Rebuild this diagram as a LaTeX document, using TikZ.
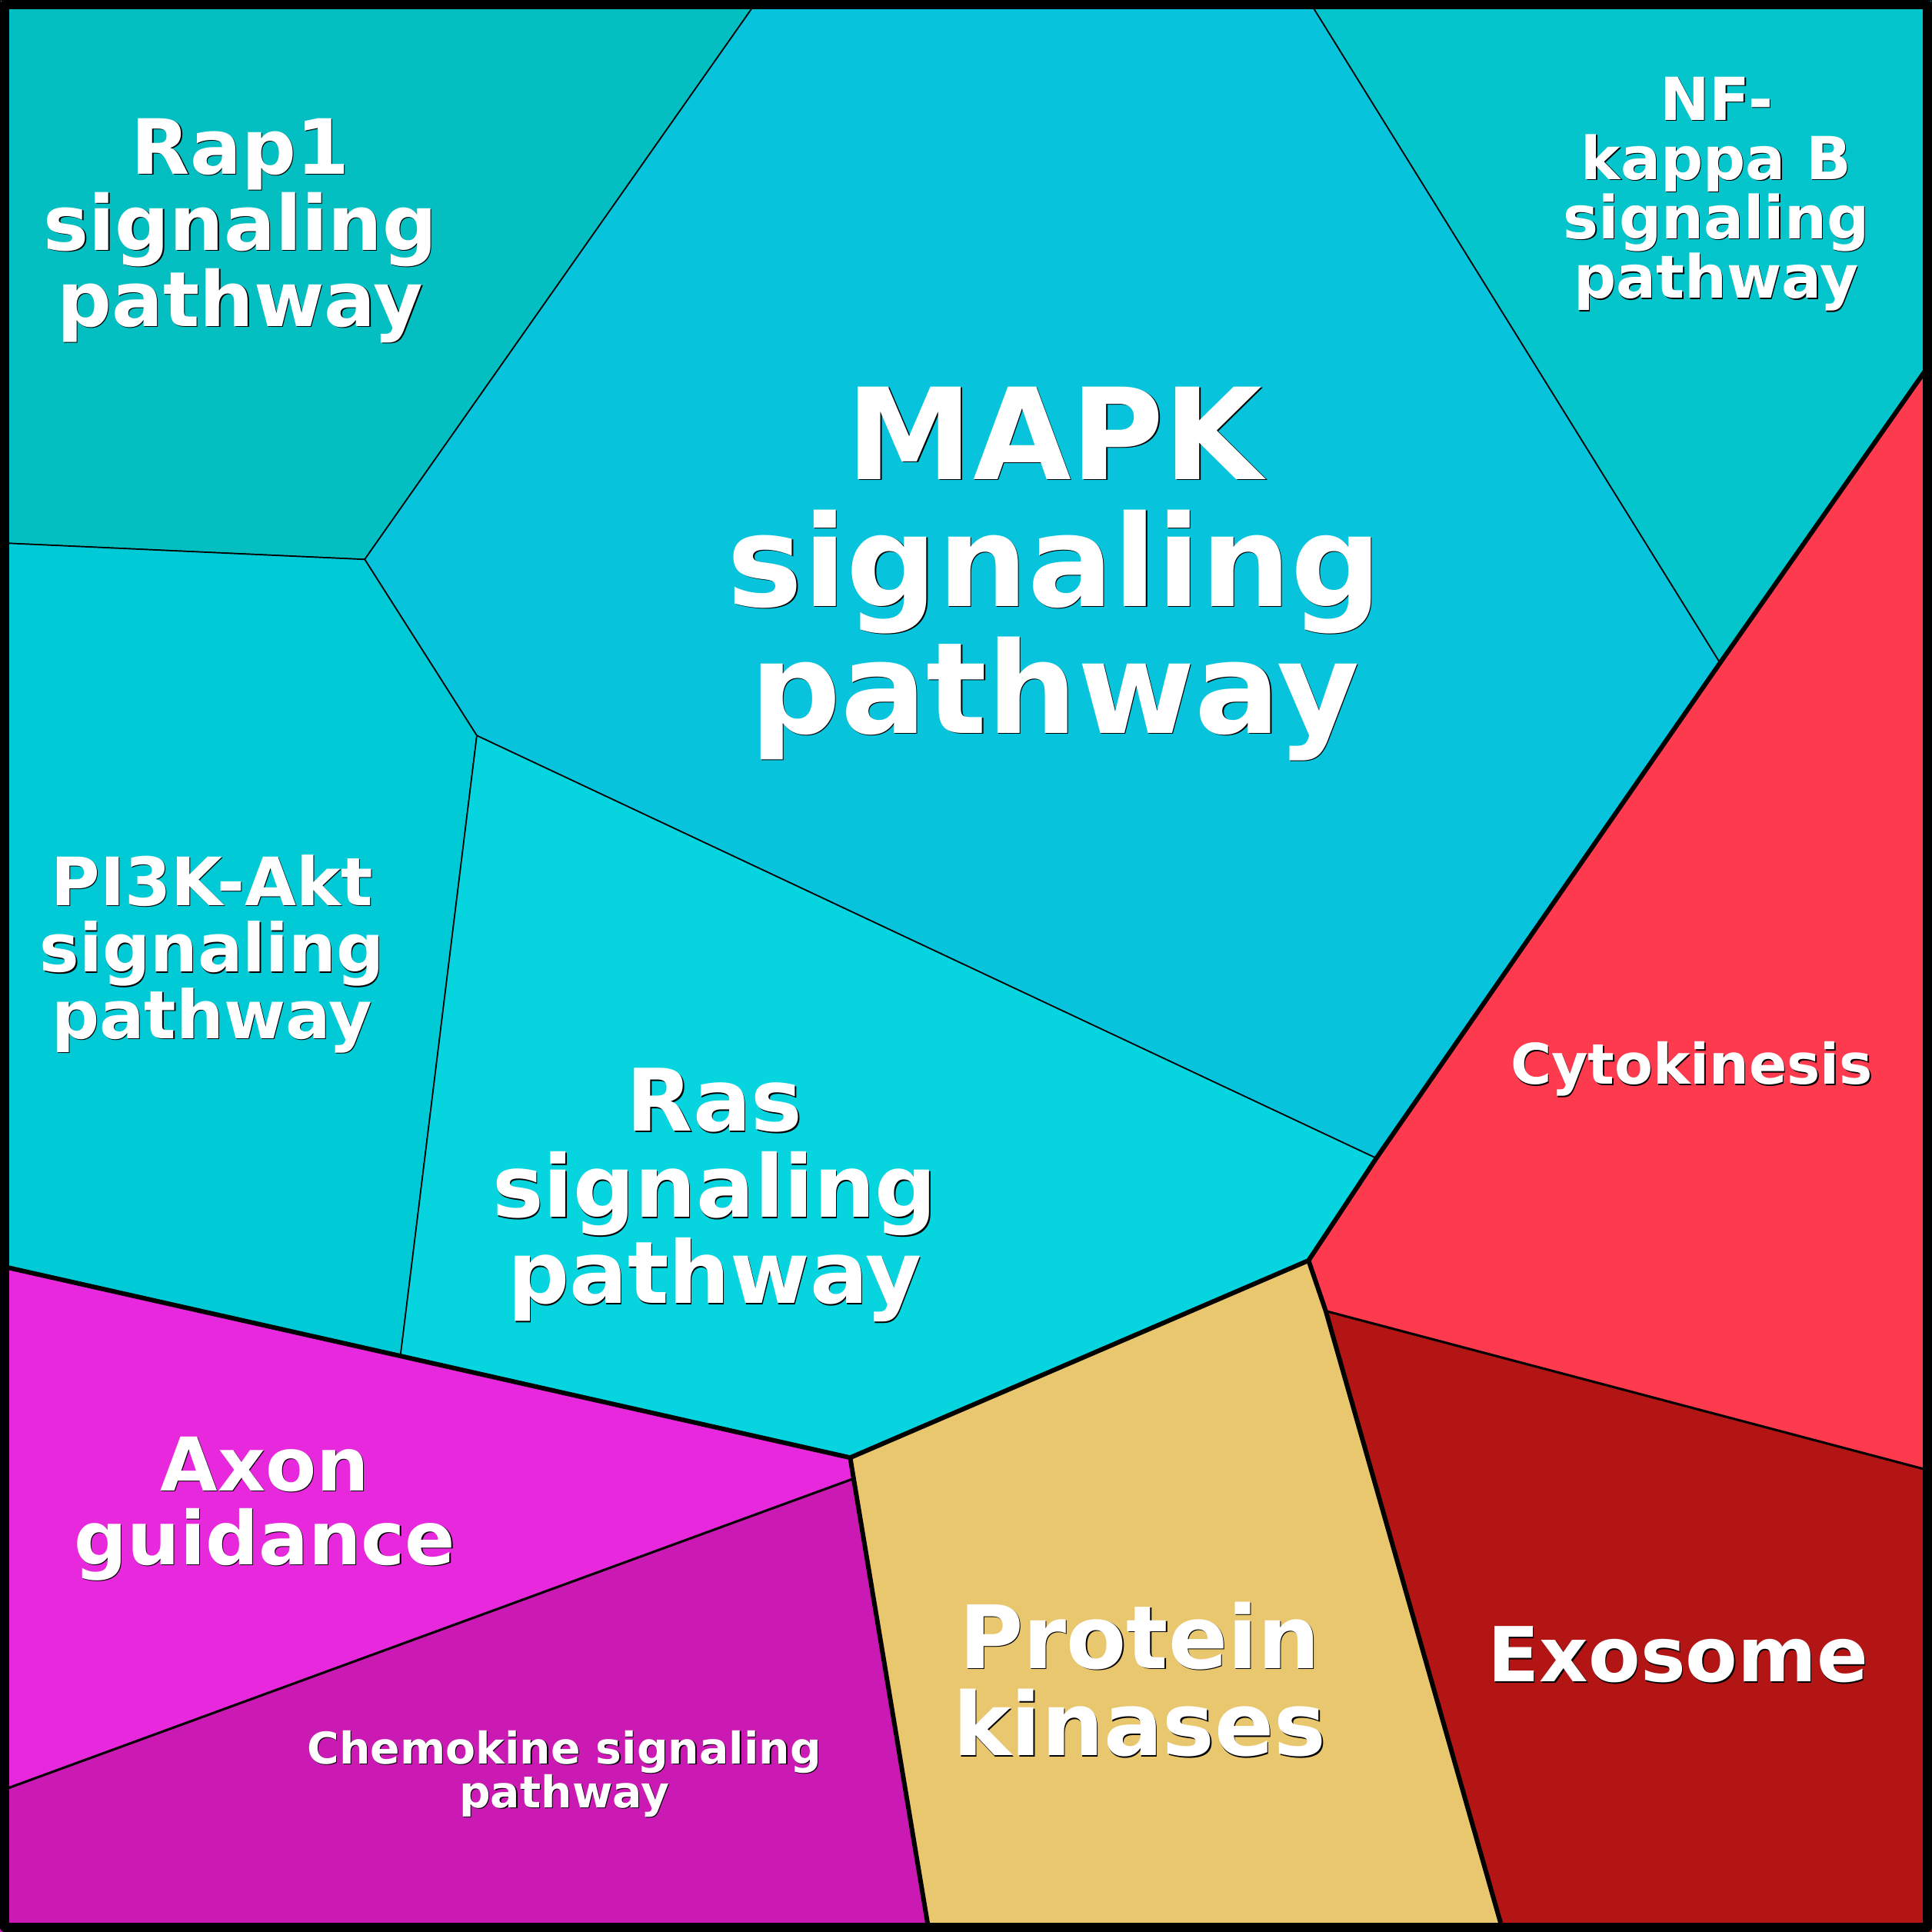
\documentclass[tikz,border=0pt]{standalone}
\usepackage{fontspec}
\setmainfont{DejaVu Sans}

\definecolor{rapcol}{HTML}{04BFC1}
\definecolor{mapkcol}{HTML}{08C3DC}
\definecolor{nfkbcol}{HTML}{05C5CC}
\definecolor{pikcol}{HTML}{00CAD6}
\definecolor{rascol}{HTML}{06D5E0}
\definecolor{cytocol}{HTML}{FD3A4E}
\definecolor{exocol}{HTML}{B31515}
\definecolor{pkcol}{HTML}{E8C76F}
\definecolor{axoncol}{HTML}{E828DC}
\definecolor{chemocol}{HTML}{CA1AB3}

\tikzset{
  cell/.style={draw=black, line width=0.3pt, line join=round},
  midline/.style={draw=black, line width=0.55pt, line cap=round},
  groupline/.style={draw=black, line width=1.06pt, line cap=round, line join=round},
  celltext/.style={align=center, anchor=base, inner sep=0pt},
}

% label with a small dark drop shadow: name, x, y (last baseline), size, text
\newcommand{\celllabel}[5]{%
  \node[celltext, black, font=\bfseries\fontsize{#4}{#4}\selectfont] at (#2+0.8,#3+0.8) {#5};
  \node[celltext, white, font=\bfseries\fontsize{#4}{#4}\selectfont] (#1) at (#2,#3) {#5};
}

\begin{document}
\begin{tikzpicture}[x=0.01cm, y=-0.01cm]
    \useasboundingbox (0,0) rectangle (1568,1568);

    % Corners and edge points
    \coordinate (tl) at (0,0);
    \coordinate (tr) at (1568,0);
    \coordinate (br) at (1568,1568);
    \coordinate (bl) at (0,1568);
    \coordinate (t1) at (615,0);
    \coordinate (t2) at (1062,0);
    \coordinate (l1) at (0,440.6);
    \coordinate (l2) at (0,1027.3);
    \coordinate (l3) at (0,1453.6);
    \coordinate (r1) at (1568,293);
    \coordinate (r2) at (1568,1194);
    \coordinate (b1) at (754,1568);
    \coordinate (b2) at (1220,1568);

    % Inner vertices
    \coordinate (v1) at (296,454);
    \coordinate (v2) at (387,597);
    \coordinate (v3) at (1396,538);
    \coordinate (v4) at (1117,940);
    \coordinate (v5) at (1062,1023);
    \coordinate (v6) at (1076,1064);
    \coordinate (v7) at (690,1183);
    \coordinate (v8) at (325,1100.5);
    \coordinate (v9) at (692.8,1200);

    % Draw the cells
    \filldraw[cell, fill=rapcol] (tl) -- (t1) -- (v1) -- (l1) -- cycle;
    \filldraw[cell, fill=mapkcol] (t1) -- (t2) -- (v3) -- (v4) -- (v2) -- (v1) -- cycle;
    \filldraw[cell, fill=nfkbcol] (t2) -- (tr) -- (r1) -- (v3) -- cycle;
    \filldraw[cell, fill=pikcol] (l1) -- (v1) -- (v2) -- (v8) -- (l2) -- cycle;
    \filldraw[cell, fill=rascol] (v2) -- (v4) -- (v5) -- (v7) -- (v8) -- cycle;
    \fill[cytocol] (r1) -- (r2) -- (v6) -- (v5) -- (v4) -- (v3) -- cycle;
    \fill[exocol] (v6) -- (r2) -- (br) -- (b2) -- cycle;
    \fill[pkcol] (v7) -- (v5) -- (v6) -- (b2) -- (b1) -- cycle;
    \fill[axoncol] (l2) -- (v8) -- (v7) -- (v9) -- (l3) -- cycle;
    \fill[chemocol] (l3) -- (v9) -- (b1) -- (bl) -- cycle;

    % Borders inside the red and magenta groups
    \draw[midline] (v6) -- (r2);
    \draw[midline] (l3) -- (v9);

    % Borders between the groups
    \draw[groupline] (r1) -- (v3) -- (v4) -- (v5) -- (v7);
    \draw[groupline] (l2) -- (v8) -- (v7) -- (v9) -- (b1);
    \draw[groupline] (v5) -- (v6) -- (b2);

    % Frame
    \draw[line width=2.12pt, line join=round] (3.75,3.75) rectangle (1564.25,1564.25);

    % Labels
    \celllabel{rap}{195}{265}{17.6pt}{Rap1\\signaling\\pathway}
    \celllabel{nfkb}{1393}{242}{13.7pt}{NF-\\kappa B\\signaling\\pathway}
    \celllabel{mapk}{856}{595}{29.3pt}{MAPK\\signaling\\pathway}
    \celllabel{pik}{172}{843}{15.4pt}{PI3K-Akt\\signaling\\pathway}
    \celllabel{ras}{580}{1058}{19.9pt}{Ras\\signaling\\pathway}
    \celllabel{cyto}{1373}{880}{12.9pt}{Cytokinesis}
    \celllabel{axon}{215}{1270}{17.1pt}{Axon\\guidance}
    \celllabel{chemo}{458}{1467}{10.1pt}{Chemokine signaling\\pathway}
    \celllabel{pk}{925}{1425}{20.2pt}{Protein\\kinases}
    \celllabel{exo}{1362}{1365}{17.5pt}{Exosome}
\end{tikzpicture}
\end{document}
